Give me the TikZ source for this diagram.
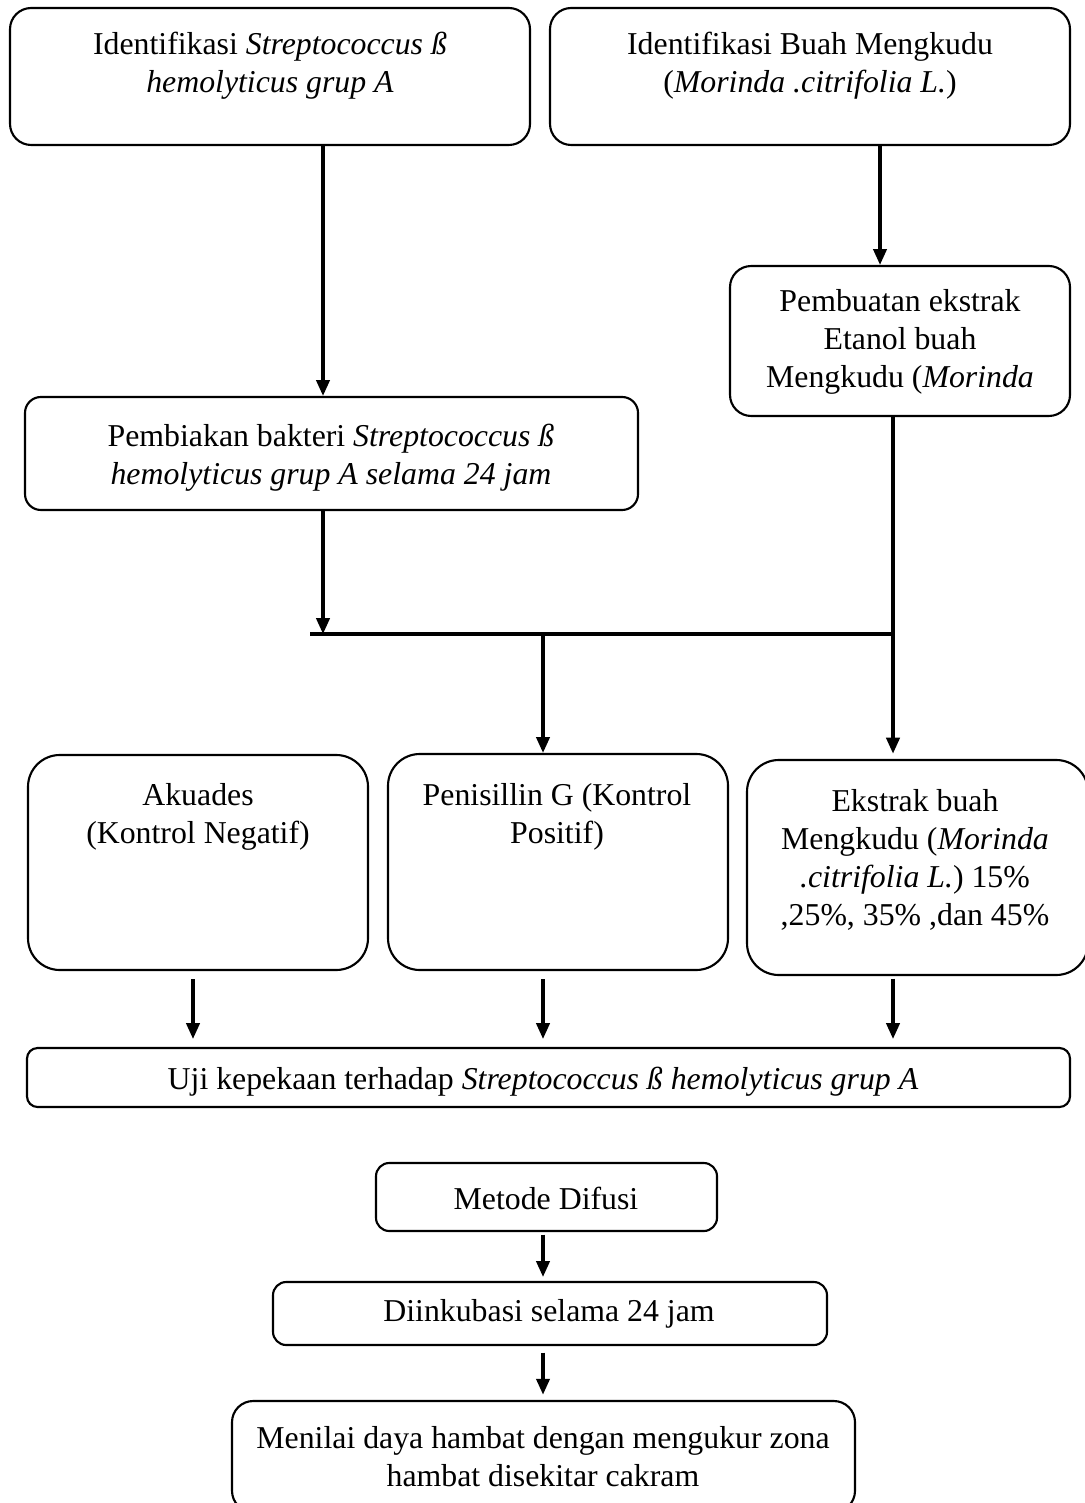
\documentclass[tikz,border=0pt]{standalone}
\usepackage{fontspec}
\setmainfont{Liberation Serif}
\usetikzlibrary{arrows.meta,fit}

\begin{document}
\begin{tikzpicture}[x=0.013263cm, y=-0.013263cm,
        every node/.style={font=\fontsize{12}{14.3}\selectfont},
        kotak/.style={draw, line width=0.8pt, rounded corners=8pt, inner sep=0pt},
        kotakbesar/.style={kotak, rounded corners=12pt},
        teks/.style={align=center, inner sep=0pt},
        panah/.style={line width=1.25pt, -{Triangle[length=6pt,width=5pt]}},
        garis/.style={line width=1.5pt}]
        \useasboundingbox (0,0) rectangle (1084,1503);
        % alur penelitian: identifikasi, pembiakan dan ekstrak, lalu uji kepekaan
        \coordinate (simpulKiri) at (310,634);
        \coordinate (simpulA) at (323,634);
        \coordinate (simpulTengah) at (543,634);
        \coordinate (simpulKanan) at (893,634);
        \coordinate (kolomB) at (880,200);
        \coordinate (kolomA) at (193,1000);

        \node[kotak, fit={(10,8) (530,145)}] (idBakteri) {};
        \node[teks] (tIdBakteri) at (270,66) {Identifikasi \textit{Streptococcus ß}\\ \textit{hemolyticus grup A}};
        \node[kotak, fit={(550,8) (1070,145)}] (idBuah) {};
        \node[teks] (tIdBuah) at (810,66) {Identifikasi Buah Mengkudu\\ (\textit{Morinda .citrifolia L.})};

        \node[kotak, fit={(730,266) (1070,416)}] (ekstrak) {};
        \node[teks] (tEkstrak) at (900,342) {Pembuatan ekstrak\\ Etanol buah\\ Mengkudu (\textit{Morinda}};
        \node[kotak, rounded corners=6pt, fit={(25,397) (638,510)}] (biakan) {};
        \node[teks] (tBiakan) at (331,458) {Pembiakan bakteri \textit{Streptococcus ß}\\ \textit{hemolyticus grup A selama 24 jam}};

        \node[kotakbesar, fit={(28,755) (368,970)}] (akuades) {};
        \node[teks] (tAkuades) at (198,817) {Akuades\\ (Kontrol Negatif)};
        \node[kotakbesar, fit={(388,754) (728,970)}] (penisilin) {};
        \node[teks] (tPenisilin) at (557,817) {Penisillin G (Kontrol\\ Positif)};
        \node[kotakbesar, fit={(747,760) (1088,975)}] (ekstrakBuah) {};
        \node[teks] (tEkstrakBuah) at (915,860) {Ekstrak buah\\ Mengkudu (\textit{Morinda}\\ \textit{.citrifolia L.}) 15\%\\ ,25\%, 35\% ,dan 45\%};

        \node[kotak, rounded corners=4pt, fit={(27,1048) (1070,1107)}] (uji) {};
        \node[teks] (tUji) at (543,1082) {Uji kepekaan terhadap \textit{Streptococcus ß hemolyticus grup A}};
        \node[kotak, rounded corners=5pt, fit={(376,1163) (717,1231)}] (difusi) {};
        \node[teks] (tDifusi) at (546,1198) {Metode Difusi};
        \node[kotak, rounded corners=5pt, fit={(273,1282) (827,1345)}] (inkubasi) {};
        \node[teks] (tInkubasi) at (549,1314) {Diinkubasi selama 24 jam};
        \node[kotak, fit={(232,1401) (855,1512)}] (zona) {};
        \node[teks] (tZona) at (543,1457) {Menilai daya hambat dengan mengukur zona\\ hambat disekitar cakram};

        \draw[panah] (idBakteri.south -| simpulA) -- (biakan.north -| simpulA);
        \draw[panah] (idBuah.south -| kolomB) -- (ekstrak.north -| kolomB);
        \draw[panah] (biakan.south -| simpulA) -- (simpulA);
        \draw[garis] (simpulKiri) -- (simpulKanan);
        \draw[panah] (simpulTengah) -- (penisilin.north -| simpulTengah);
        \draw[panah] (ekstrak.south -| simpulKanan) -- ([yshift=2pt]ekstrakBuah.north -| simpulKanan);

        \draw[panah, shorten <=3pt, shorten >=3pt] (akuades.south -| kolomA) -- (uji.north -| kolomA);
        \draw[panah, shorten <=3pt, shorten >=3pt] (penisilin.south -| simpulTengah) -- (uji.north -| simpulTengah);
        \draw[panah, shorten <=1pt, shorten >=3pt] (ekstrakBuah.south -| simpulKanan) -- (uji.north -| simpulKanan);

        \draw[panah, shorten <=1pt, shorten >=1.5pt] (difusi.south -| simpulTengah) -- (inkubasi.north -| simpulTengah);
        \draw[panah, shorten <=2.5pt, shorten >=2pt] (inkubasi.south -| simpulTengah) -- (zona.north -| simpulTengah);
    \end{tikzpicture}
\end{document}
